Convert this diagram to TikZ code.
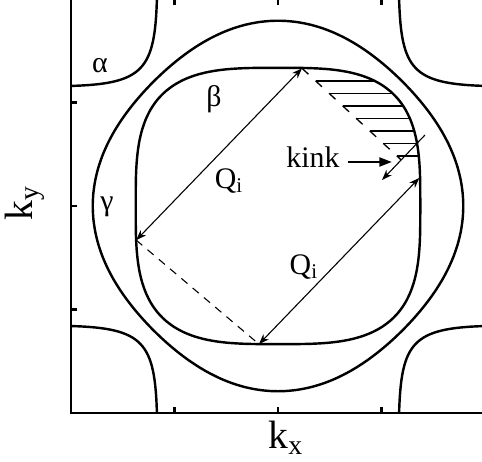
\documentclass[tikz,border=0pt]{standalone}
\usepackage{fontspec}
\setmainfont{Liberation Serif}
\usetikzlibrary{arrows.meta,calc}
\tikzset{
  frame/.style={line width=1.2pt},
  fsline/.style={line width=1pt},
  qarrow/.style={{Stealth[length=1.5mm,width=1.1mm]}-{Stealth[length=1.5mm,width=1.1mm]},line width=0.45pt},
  onearrow/.style={-{Stealth[length=1.5mm,width=1.1mm]},line width=0.45pt},
  kinkarrow/.style={-{Triangle[length=1.8mm,width=1.3mm]},line width=0.8pt},
  hatch/.style={line width=0.55pt},
  nesting/.style={line width=0.45pt,dash pattern=on 3.3pt off 2.8pt},
  diagdash/.style={line width=0.55pt,dash pattern=on 3.6pt off 4pt},
  lbl/.style={font=\fontsize{12.3}{14}\selectfont,inner sep=1pt},
  axlbl/.style={font=\fontsize{16.3}{18}\selectfont,inner sep=1pt}
}
\newcommand{\betacurve}{plot[smooth cycle,domain=2:358,samples=90]
  ({1.375*cos(\x)/(abs(cos(\x))^3.3+abs(sin(\x))^3.3)^0.303},{1.335*sin(\x)/(abs(cos(\x))^3.3+abs(sin(\x))^3.3)^0.303})}

\begin{document}
\begin{tikzpicture}[x=1.5cm,y=1.5cm]
  \clip (-2.686,-2.473) rectangle (1.971,1.990);
  \draw[frame] (-2,-2) rectangle (2,2);
  \foreach \p in {-1,0,1} {
    \draw[frame] (\p,-2) -- ++(0,0.06);
    \draw[frame] (\p,2) -- ++(0,-0.06);
    \draw[frame] (-2,\p) -- ++(0.06,0);
  }
  % alpha pockets
  \foreach \sx/\sy in {1/1,-1/1,1/-1,-1/-1}
    \draw[fsline,xscale=\sx,yscale=\sy] (-1.17,2) .. controls (-1.19,1.32) and (-1.3,1.18) .. (-2,1.16);
  % gamma and beta
  \draw[fsline] plot[smooth cycle,domain=0:356,samples=90] (\x:{1.745+0.045*cos(4*\x)});
  \draw[fsline] \betacurve;

  \coordinate (qa1) at (-1.37,-0.33);
  \coordinate (qa2) at (0.232,1.33);
  \coordinate (qb1) at (-0.184,-1.335);
  \coordinate (qb2) at (1.365,0.271);
  \coordinate (c1) at (1.42,0.686);
  \coordinate (c2) at (1.005,0.251);
  \coordinate (kk) at (1.19,0.445);
  \coordinate (kinktip) at (1.10,0.425);

  \begin{scope}
    \clip \betacurve;
    \foreach \i in {0,...,6} {
      \pgfmathsetmacro\t{0.138+0.1365*\i}
      \draw[hatch] ($(qa2)!\t!(kk)$) -- ++(1,0);
    }
  \end{scope}

  \draw[qarrow] (qa1) -- (qa2);
  \draw[qarrow] (qb1) -- (qb2);
  \draw[nesting] (qa1) -- (qb1);
  \draw[diagdash] (qa2) -- (kk);
  \draw[onearrow] (c1) -- (c2);

  \node[lbl] (alphalbl) at (-1.72,1.36) {α};
  \node[lbl] (betalbl) at (-0.618,1.034) {β};
  \node[lbl] (gammalbl) at (-1.652,-0.01) {γ};
  \node[lbl] (qalbl) at (-0.473,0.242) {Q\textsubscript{i}};
  \node[lbl] (qblbl) at (0.251,-0.589) {Q\textsubscript{i}};
  \node[lbl] (kinklabel) at (0.338,0.47) {kink};
  \draw[kinkarrow] (kinklabel.east |- kinktip) ++(0.05,0) -- (kinktip);
  \node[axlbl] (kxlbl) at (0.077,-2.24) {k\textsubscript{x}};
  \node[axlbl,rotate=90] (kylbl) at (-2.444,0.029) {k\textsubscript{y}};
\end{tikzpicture}
\end{document}
